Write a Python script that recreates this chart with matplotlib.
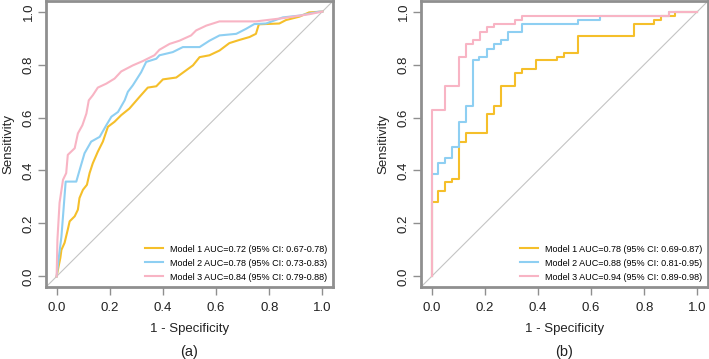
import matplotlib
matplotlib.use("Agg")
import matplotlib.pyplot as plt

plt.rcParams['font.family'] = ['Liberation Sans', 'DejaVu Sans']

# ---- Panel (a) data (1 - specificity, sensitivity) ----
a_m1_fpr = [0, 0.005, 0.014, 0.018, 0.03, 0.042, 0.049, 0.068, 0.08, 0.086, 0.099, 0.114, 0.124,
            0.136, 0.155, 0.174, 0.193, 0.218, 0.243, 0.274, 0.312, 0.343, 0.375, 0.4, 0.45,
            0.487, 0.513, 0.538, 0.575, 0.613, 0.65, 0.688, 0.726, 0.75, 0.761, 0.838, 0.863,
            0.914, 0.95, 1.0]
a_m1_tpr = [0, 0.026, 0.07, 0.1, 0.127, 0.177, 0.208, 0.227, 0.252, 0.296, 0.327, 0.346, 0.39,
            0.427, 0.471, 0.509, 0.565, 0.584, 0.609, 0.634, 0.678, 0.713, 0.718, 0.744, 0.751,
            0.778, 0.797, 0.828, 0.835, 0.853, 0.881, 0.893, 0.904, 0.916, 0.952, 0.955, 0.968,
            0.981, 0.997, 1.0]

a_m2_fpr = [0, 0.008, 0.018, 0.024, 0.034, 0.074, 0.086, 0.105, 0.13, 0.162, 0.187, 0.206,
            0.231, 0.256, 0.268, 0.287, 0.318, 0.337, 0.375, 0.387, 0.437, 0.475, 0.538, 0.575,
            0.613, 0.676, 0.713, 0.744, 0.788, 0.851, 0.914, 0.989, 1.0]
a_m2_tpr = [0, 0.07, 0.15, 0.227, 0.358, 0.358, 0.4, 0.465, 0.509, 0.527, 0.571, 0.603,
            0.621, 0.665, 0.697, 0.722, 0.771, 0.81, 0.822, 0.835, 0.847, 0.866, 0.866, 0.89,
            0.91, 0.916, 0.935, 0.953, 0.955, 0.978, 0.985, 1.0, 1.0]

a_m3_fpr = [0, 0.003, 0.011, 0.024, 0.036, 0.042, 0.068, 0.08, 0.097, 0.112, 0.121,
            0.136, 0.155, 0.187, 0.218, 0.243, 0.287, 0.324, 0.368, 0.387, 0.425, 0.462,
            0.506, 0.525, 0.563, 0.613, 0.75, 0.85, 0.95, 1.0]
a_m3_tpr = [0, 0.139, 0.278, 0.365, 0.39, 0.459, 0.484, 0.54, 0.571, 0.615, 0.665,
            0.684, 0.713, 0.728, 0.747, 0.774, 0.797, 0.813, 0.835, 0.856, 0.878, 0.89,
            0.91, 0.929, 0.947, 0.963, 0.963, 0.975, 0.99, 1.0]

# ---- Panel (b) data: corners at top of each vertical jump ----
b_m1_fpr = [0, 0, 0.024, 0.051, 0.076, 0.103, 0.13, 0.209, 0.234, 0.262, 0.315, 0.341, 0.394,
            0.471, 0.497, 0.55, 0.76, 0.838, 0.864, 0.917, 1.0]
b_m1_tpr = [0, 0.28, 0.323, 0.356, 0.368, 0.506, 0.54, 0.615, 0.645, 0.72, 0.768, 0.784, 0.816,
            0.83, 0.845, 0.906, 0.953, 0.968, 0.985, 1.0, 1.0]

b_m2_fpr = [0, 0, 0.024, 0.051, 0.076, 0.103, 0.129, 0.155, 0.18, 0.208, 0.234, 0.262, 0.287,
            0.341, 0.55, 0.632, 0.892, 1.0]
b_m2_tpr = [0, 0.386, 0.43, 0.446, 0.49, 0.584, 0.645, 0.816, 0.83, 0.86, 0.878, 0.893, 0.922,
            0.953, 0.968, 0.985, 1.0, 1.0]

b_m3_fpr = [0, 0, 0.05, 0.104, 0.13, 0.155, 0.183, 0.209, 0.234, 0.315, 0.341, 0.892, 1.0]
b_m3_tpr = [0, 0.63, 0.72, 0.83, 0.878, 0.893, 0.922, 0.94, 0.953, 0.968, 0.985, 1.0, 1.0]

labels_a = ["Model 1 AUC=0.72 (95% CI: 0.67-0.78)",
            "Model 2 AUC=0.78 (95% CI: 0.73-0.83)",
            "Model 3 AUC=0.84 (95% CI: 0.79-0.88)"]
labels_b = ["Model 1 AUC=0.78 (95% CI: 0.69-0.87)",
            "Model 2 AUC=0.88 (95% CI: 0.81-0.95)",
            "Model 3 AUC=0.94 (95% CI: 0.89-0.98)"]
ticks = [0.0, 0.2, 0.4, 0.6, 0.8, 1.0]
tick_labels = ["0.0", "0.2", "0.4", "0.6", "0.8", "1.0"]
captions = ["(a)", "(b)"]

colors = ["#F5BF2A", "#8ECFF2", "#F8B4C4"]
frame_col = "#8f8f8f"

fig = plt.figure(figsize=(7.09, 3.59), dpi=100)
ax_a = fig.add_axes([46/709, 1 - 287/359, 287/709, 286/359])
ax_b = fig.add_axes([421/709, 1 - 287/359, 287/709, 286/359])


def style(ax, caption):
    ax.set_xlim(-0.04, 1.04)
    ax.set_ylim(-0.04, 1.04)
    ax.plot([-0.04, 1.04], [-0.04, 1.04], color="#c4c4c4", lw=0.8, zorder=1)
    for s in ax.spines.values():
        s.set_color(frame_col)
        s.set_linewidth(2.0)
    ax.set_xticks(ticks)
    ax.set_xticklabels(tick_labels)
    ax.set_yticks(ticks)
    ax.set_yticklabels(tick_labels, rotation=90, va="center")
    ax.tick_params(axis="both", direction="out", length=6, width=1.0, color=frame_col,
                   labelsize=9.5, labelcolor="#222222")
    ax.tick_params(axis="x", pad=5)
    ax.tick_params(axis="y", pad=2)
    ax.set_xlabel("1 - Specificity", fontsize=9.5, color="#222222", labelpad=6)
    ax.set_ylabel("Sensitivity", fontsize=9.5, color="#222222", labelpad=6)
    ax.text(0.5, -0.228, caption, transform=ax.transAxes, ha="center", va="center",
            fontsize=10.5, color="#222222")


style(ax_a, captions[0])
style(ax_b, captions[1])

for fpr, tpr, c, lab in zip([a_m1_fpr, a_m2_fpr, a_m3_fpr], [a_m1_tpr, a_m2_tpr, a_m3_tpr],
                            colors, labels_a):
    ax_a.plot(fpr, tpr, color=c, lw=1.5, label=lab, zorder=3)

for fpr, tpr, c, lab in zip([b_m1_fpr, b_m2_fpr, b_m3_fpr], [b_m1_tpr, b_m2_tpr, b_m3_tpr],
                            colors, labels_b):
    ax_b.plot(fpr, tpr, color=c, lw=1.5, label=lab, zorder=3, drawstyle="steps-post")

for ax in (ax_a, ax_b):
    ax.legend(loc="lower right", bbox_to_anchor=(1.0, 0.0), frameon=False, fontsize=6.5,
              handlelength=2.0, handletextpad=0.8, labelspacing=0.55, borderaxespad=0.2)

fig.savefig("out.png", dpi=100)
